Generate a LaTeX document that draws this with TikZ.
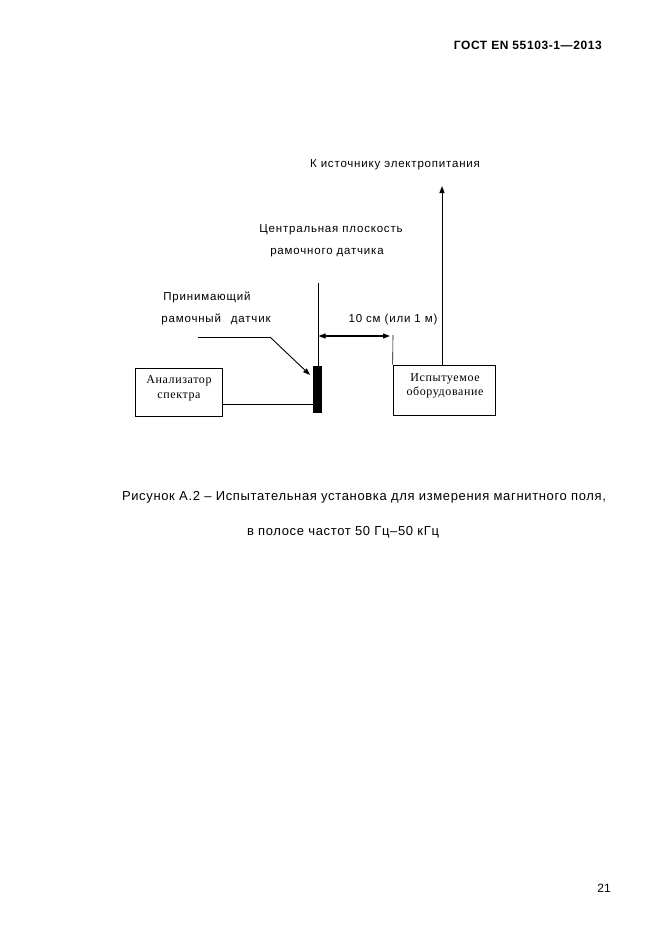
\documentclass[tikz,border=0pt]{standalone}
\usepackage{fontspec}
\setmainfont{Liberation Sans}
\newfontfamily\lblfont[LetterSpace=7]{Liberation Sans}
\newfontfamily\capfont[LetterSpace=5]{Liberation Sans}
\newfontfamily\tnrfont[LetterSpace=5]{Liberation Serif}
\usetikzlibrary{arrows.meta}
\tikzset{
  lbl/.style={inner sep=0pt, font=\lblfont\fontsize{11.5}{13}\selectfont},
  box/.style={draw, line width=0.7pt, inner sep=0pt},
  boxtxt/.style={inner sep=0pt, align=center, font=\tnrfont\fontsize{12}{14.5}\selectfont},
  wire/.style={line width=0.6pt},
  tip/.style={-{Triangle[length=7pt,width=5pt]}},
}
\begin{document}
\begin{tikzpicture}[x=1pt,y=-1pt]
\useasboundingbox (0,0) rectangle (661,935);
% header
\node[anchor=east, inner sep=0pt, font=\capfont\bfseries\fontsize{12}{14}\selectfont] (hdr) at (602,45) {ГОСТ EN 55103-1—2013};
% boxes
\node[box, minimum width=87pt, minimum height=48pt] (an) at (178.5,392) {};
\node[boxtxt] (antxt) at (179,388.5) {Анализатор\\спектра};
\node[box, minimum width=102pt, minimum height=50pt] (eut) at (444,390) {};
\node[boxtxt] (euttxt) at (445,386) {Испытуемое\\оборудование};
% loop sensor
\node[fill=black, minimum width=9pt, minimum height=47pt, inner sep=0pt] (bar) at (317.5,389.5) {};
% central plane line
\coordinate (cptop) at (318,283);
\draw[wire] (cptop) -- (bar.north -| cptop);
% analyser to sensor
\draw[wire] (an.east |- 0,404) -- (bar.west |- 0,404);
% pointer
\coordinate (p0) at (198,337);
\coordinate (p1) at (270,337);
\coordinate (ptip) at (310,375);
\draw[wire] (p0) -- (p1);
\draw[tip, line width=0.9pt] (p1) -- (ptip);
% distance
\coordinate (dl) at (318.5,336);
\coordinate (dr) at (390,336);
\draw[{Triangle[length=7pt,width=5pt]}-{Triangle[length=7pt,width=5pt]}, line width=1.1pt] (dl) -- (dr);
\coordinate (eutup) at (393,335);
\draw[wire] (eutup) -- (eut.north west);
% to power
\coordinate (pw) at (442,186);
\draw[tip, line width=1pt] (eut.north -| pw) -- (pw);
% labels
\node[lbl] (power) at (395,165) {К источнику электропитания};
\node[lbl] (cp1) at (331,230) {Центральная плоскость};
\node[lbl] (cp2) at (327,253) {рамочного датчика};
\node[lbl] (rs1) at (207,297) {Принимающий};
\node[lbl] (rs2) at (216,319) {рамочный\hspace{10pt}датчик};
\node[lbl] (dist) at (393,320) {10 см (или 1 м)};
% caption
\node[inner sep=0pt, font=\capfont\fontsize{13}{15}\selectfont] (cap1) at (364,497) {Рисунок А.2 – Испытательная установка для измерения магнитного поля,};
\node[inner sep=0pt, font=\capfont\fontsize{13}{15}\selectfont] (cap2) at (343,532) {в полосе частот 50 Гц–50 кГц};
% page number
\node[inner sep=0pt, font=\fontsize{12}{14}\selectfont] (pg) at (604,888) {21};
\end{tikzpicture}
\end{document}
